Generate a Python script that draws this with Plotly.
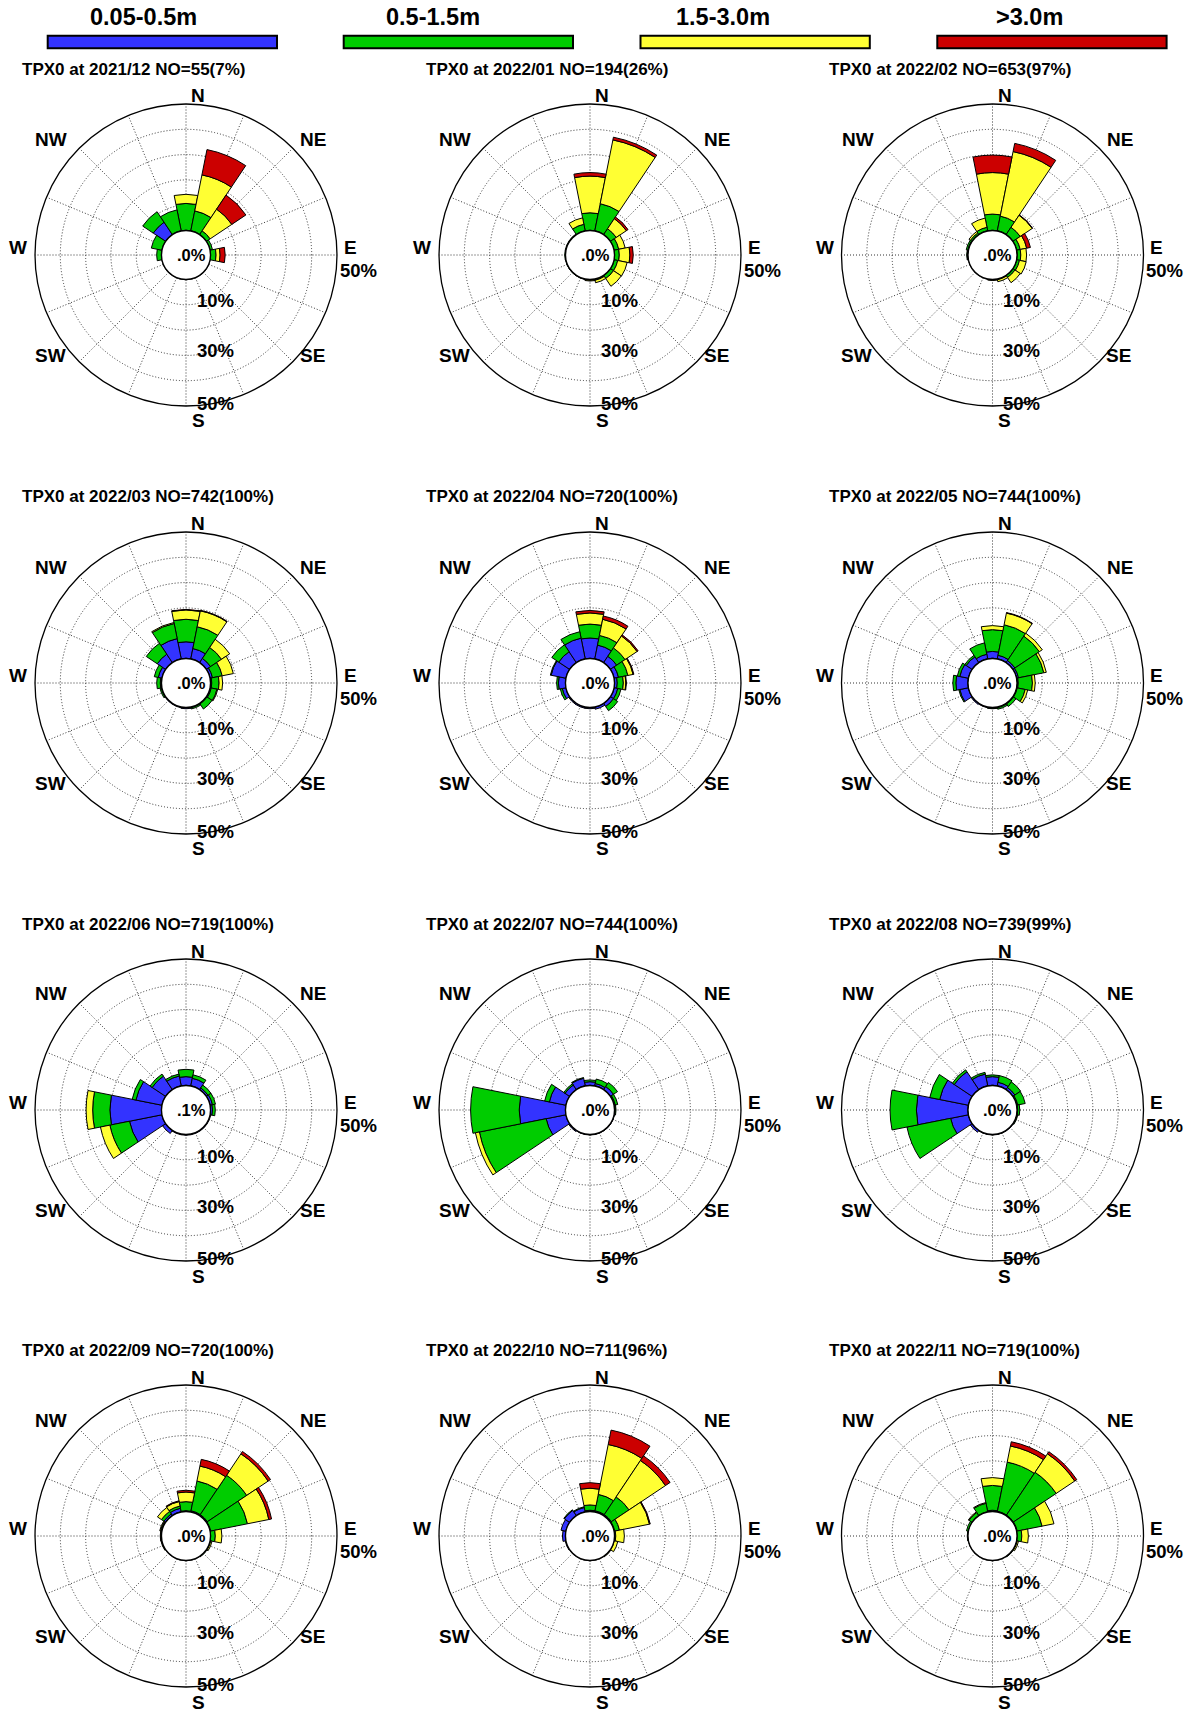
import numpy as np
import plotly.graph_objects as go

W, H = 1197, 1711

# ---------------- data ----------------
DIRECTIONS = [i * 22.5 for i in range(16)]  # N, NNE, ..., NNW
MONTHS = ["2021/12", "2022/01", "2022/02", "2022/03", "2022/04", "2022/05",
          "2022/06", "2022/07", "2022/08", "2022/09", "2022/10", "2022/11"]
NO_COUNT = [55, 194, 653, 742, 720, 744, 719, 744, 739, 720, 711, 719]
NO_PCT = [7, 26, 97, 100, 100, 100, 100, 100, 99, 100, 96, 100]
CALM = [".0%", ".0%", ".0%", ".0%", ".0%", ".0%", ".1%", ".0%", ".0%", ".0%", ".0%", ".0%"]

CLASS_LABELS = ["0.05-0.5m", "0.5-1.5m", "1.5-3.0m", ">3.0m"]
CLASS_COLORS = ["#3333FF", "#00CC00", "#FFFF33", "#CC0000"]

# percent frequency per direction (N, NNE, NE, ENE, E, ESE, SE, SSE, S, SSW, SW, WSW, W, WNW, NW, NNW)
HS_005_05 = [
    [0, 0, 0, 0, 0, 0, 0, 0, 0, 0, 0, 0, 0, 0, 5.9, 0],                               # 2021/12
    [0, 0, 0, 0, 0, 0, 0, 0, 0, 0, 0, 0, 0, 0, 0, 0],                                 # 2022/01
    [0, 0, 0, 0, 0, 0, 0, 0, 0, 0, 0, 0, 0.3, 0.3, 0, 0],                             # 2022/02
    [6.6, 4.2, 2.0, 1.0, 0.5, 0.5, 0.3, 0.3, 0.5, 0.3, 0.3, 0.3, 0.5, 1.5, 4.0, 8.2],  # 2022/03
    [8.1, 5.6, 3.0, 1.8, 1.1, 1.5, 1.5, 0.9, 0.5, 0.5, 0.5, 1.5, 2.8, 6.0, 5.2, 8.4],  # 2022/04
    [2.8, 1.5, 1.0, 0.8, 0.5, 0.3, 0.3, 0.3, 0.3, 0.3, 0.5, 3.5, 4.8, 3.5, 2.8, 1.9],  # 2022/05
    [3.5, 3.1, 0.8, 1.0, 0.8, 0.3, 0.3, 0.3, 0.3, 0.3, 1.5, 13.1, 20.4, 10.5, 6.4, 4.0],  # 2022/06
    [1.5, 1.0, 1.5, 0.5, 0.3, 0.2, 0.2, 0.2, 0.2, 0.2, 0.5, 8.0, 18.3, 6.7, 2.2, 3.1],  # 2022/07
    [3.5, 1.5, 1.0, 0.5, 0.3, 0.2, 0.2, 0.2, 0.2, 0.2, 0.9, 7.2, 20.4, 11.6, 8.5, 4.8],  # 2022/08
    [0.3, 0.5, 0.5, 0.3, 0, 0, 0, 0, 0, 0, 0, 0, 0, 0.3, 0.8, 1.5],                  # 2022/09
    [0.5, 0.5, 0.5, 0.3, 0, 0, 0, 0, 0, 0, 0, 0.3, 1.2, 2.0, 2.5, 1.8],              # 2022/10
    [0.5, 0.3, 0.3, 0.3, 0, 0, 0, 0, 0, 0, 0, 0, 0, 0, 0, 0],                        # 2022/11
]
HS_05_15 = [
    [10.7, 8.1, 1.8, 1.0, 2.2, 0, 0, 0, 0, 0, 0, 0, 1.9, 4.3, 5.0, 8.5],
    [7.0, 11.0, 2.8, 1.9, 1.9, 1.5, 1.5, 0.5, 0.3, 0.2, 0.2, 0.2, 0.3, 0.3, 0.3, 2.7],
    [6.5, 6.0, 3.5, 1.5, 1.5, 1.2, 1.0, 0.3, 0.2, 0, 0, 0, 0.2, 0.6, 0.8, 1.5],
    [8.9, 8.8, 5.2, 3.9, 2.9, 2.3, 2.4, 0.5, 0, 0, 0, 0.5, 1.4, 1.6, 5.2, 6.1],
    [5.5, 3.9, 4.0, 3.8, 2.4, 1.3, 2.0, 0, 0, 0, 0, 0.8, 0.7, 0.3, 3.3, 2.6],
    [8.6, 12.3, 11.6, 10.2, 5.6, 3.2, 1.2, 0.6, 0.2, 0, 0, 0.4, 1.2, 1.0, 0.7, 4.6],
    [2.9, 1.4, 1.4, 1.2, 1.1, 0, 0, 0, 0, 0, 0, 7.9, 6.8, 1.5, 1.0, 0.8],
    [0.7, 1.8, 1.9, 1.0, 0.3, 0, 0, 0, 0, 0, 0, 26.9, 19.2, 1.9, 0.6, 0.3],
    [0.7, 2.7, 2.7, 3.0, 0.8, 0.3, 0, 0, 0, 0, 0, 17.6, 10.4, 4.0, 0.9, 0.7],
    [3.6, 12.0, 18.7, 14.8, 1.9, 0.3, 0.3, 0, 0, 0, 0, 0.2, 0.3, 0.3, 1.2, 0.9],
    [2.1, 6.6, 8.4, 1.9, 0.5, 0, 0, 0, 0, 0, 0, 0, 0, 0, 0.3, 0.3],
    [9.8, 19.8, 20.3, 10.0, 1.9, 0.3, 0.3, 0, 0, 0, 0, 0, 0.3, 0.8, 1.5, 3.5],
]
HS_15_30 = [
    [3.6, 14.5, 10.3, 0, 1.6, 0, 0, 0, 0, 0, 0, 0, 0, 0, 0, 0],
    [14.5, 25.7, 4.8, 2.6, 4.2, 3.8, 3.7, 1.0, 0.3, 0, 0, 0, 0, 0, 0, 2.6],
    [16.4, 26.0, 5.7, 2.6, 2.3, 2.7, 2.5, 0.8, 0.2, 0, 0, 0, 0, 0, 0.7, 3.7],
    [3.7, 6.4, 3.9, 4.5, 1.4, 0.3, 0, 0, 0, 0, 0, 0, 0, 0, 0, 0.4],
    [4.4, 6.5, 5.7, 2.1, 1.0, 0, 0, 0, 0, 0, 0, 0, 0, 0, 0, 0],
    [1.6, 4.7, 1.4, 1.0, 1.1, 1.0, 0, 0, 0, 0, 0, 0, 0, 0, 0, 0],
    [0, 0, 0, 0, 0, 0, 0, 0, 0, 0, 0, 3.8, 2.6, 0, 0, 0],
    [0, 0, 0, 0, 0, 0, 0, 0, 0, 0, 0, 1.6, 0, 0, 0, 0],
    [0, 0, 0, 0, 0, 0, 0, 0, 0, 0, 0, 0, 0, 0, 0, 0],
    [3.8, 6.0, 10.2, 8.6, 2.6, 0.5, 0, 0, 0, 0, 0, 0.2, 0.2, 0.3, 1.9, 1.8],
    [6.6, 20.1, 17.3, 12.1, 3.4, 1.5, 0.3, 0, 0, 0, 0, 0, 0, 0, 0, 0],
    [3.1, 6.5, 8.8, 4.8, 2.6, 0.5, 0, 0, 0, 0, 0, 0, 0, 0, 0.3, 0.3],
]
HS_GT30 = [
    [0, 10.2, 6.7, 0, 2.0, 0, 0, 0, 0, 0, 0, 0, 0, 0, 0, 0],
    [1.4, 1.1, 0.8, 0, 1.3, 0, 0, 0, 0, 0, 0, 0, 0, 0, 0, 0],
    [6.9, 3.3, 0.2, 1.5, 0, 0, 0, 0, 0, 0, 0, 0, 0, 0, 0, 0],
    [0.2, 0.2, 0, 0, 0, 0, 0, 0, 0, 0, 0, 0, 0, 0, 0, 0],
    [1.0, 1.3, 0.5, 0.3, 0.2, 0, 0, 0, 0, 0, 0, 0, 0, 0, 0, 0],
    [0, 0.2, 0, 0, 0, 0, 0, 0, 0, 0, 0, 0, 0, 0, 0, 0],
    [0, 0, 0, 0, 0, 0, 0, 0, 0, 0, 0, 0, 0, 0, 0, 0],
    [0, 0, 0, 0, 0, 0, 0, 0, 0, 0, 0, 0, 0, 0, 0, 0],
    [0, 0, 0, 0, 0, 0, 0, 0, 0, 0, 0, 0, 0, 0, 0, 0],
    [0.7, 2.7, 1.1, 1.1, 0, 0, 0, 0, 0, 0, 0, 0, 0, 0, 0, 0.3],
    [2.2, 5.8, 2.2, 0.3, 0, 0, 0, 0, 0, 0, 0, 0, 0, 0, 0, 0],
    [0, 1.7, 1.0, 0, 0, 0, 0, 0, 0, 0, 0, 0, 0, 0, 0, 0],
]
CLASSES = [HS_005_05, HS_05_15, HS_15_30, HS_GT30]

RADIAL_MAX = 50
RING_VALUES = [10, 20, 30, 40]
RING_LABELS = ["10%", "30%", "50%"]
COMPASS = ["N", "NE", "E", "SE", "S", "SW", "W", "NW"]

# ---------------- layout geometry (pixels) ----------------
COL_CX = [186, 590, 992.5]
ROW_CY = [255, 683, 1110, 1536]
R = 151.0
HOLE_PX = 24.5

FONT = "Liberation Sans, Arial, Helvetica, sans-serif"
GRID_DASH = "1px,2px"
GRID_COLOR = "#333333"


def px(x):
    return x / W


def py(y):
    return 1 - y / H


fig = go.Figure()
annotations = []
shapes = []


def add_text(text, x, y, size, xanchor="center"):
    annotations.append(dict(
        text=text, x=px(x), y=py(y), xref="paper", yref="paper",
        xanchor=xanchor, yanchor="middle", showarrow=False, borderpad=0,
        font=dict(family=FONT, size=size, color="black", weight="bold"),
    ))


# compass label offsets relative to centre
COMPASS_OFF = {
    "N": (12, -159), "NE": (127, -116), "E": (164, -8), "SE": (126, 100),
    "S": (12, 166), "SW": (-136, 100), "W": (-168, -8), "NW": (-135, -116),
}
RING_OFF = [(29, 46), (29, 96), (29, 148)]
E50_OFF = (172, 15)

layout_polars = {}
for i, month in enumerate(MONTHS):
    row, col = divmod(i, 3)
    cx, cy = COL_CX[col], ROW_CY[row]
    name = "polar" if i == 0 else f"polar{i + 1}"
    layout_polars[name] = dict(
        domain=dict(x=[px(cx - R), px(cx + R)], y=[py(cy + R), py(cy - R)]),
        hole=HOLE_PX / R,
        bgcolor="white",
        barmode="stack",
        radialaxis=dict(range=[0, RADIAL_MAX], tickvals=RING_VALUES, showticklabels=False,
                        ticks="", showline=False, gridcolor=GRID_COLOR, griddash=GRID_DASH,
                        gridwidth=1, layer="above traces"),
        angularaxis=dict(rotation=90, direction="clockwise", tickmode="array",
                         tickvals=DIRECTIONS, showticklabels=False, ticks="",
                         showline=True, linecolor="black", linewidth=1.3,
                         gridcolor=GRID_COLOR, griddash=GRID_DASH, gridwidth=1,
                         layer="above traces"),
    )
    for k, cls in enumerate(CLASSES):
        fig.add_trace(go.Barpolar(
            r=cls[i], theta=DIRECTIONS, width=[22.5] * 16,
            marker=dict(color=CLASS_COLORS[k], line=dict(color="black", width=1)),
            subplot=name, name=CLASS_LABELS[k], showlegend=False,
        ))
    theta_c = np.linspace(0, 360, 181)
    fig.add_trace(go.Scatterpolar(
        r=np.zeros_like(theta_c), theta=theta_c, mode="lines",
        line=dict(color="black", width=1.3), subplot=name, showlegend=False,
        cliponaxis=False, hoverinfo="skip",
    ))
    # texts
    add_text(f"TPX0 at {month} NO={NO_COUNT[i]}({NO_PCT[i]}%)", cx - 165, cy - 186, 17, "left")
    for lab in COMPASS:
        ox, oy = COMPASS_OFF[lab]
        add_text(lab, cx + ox, cy + oy, 19)
    for lab, (ox, oy) in zip(RING_LABELS, RING_OFF):
        add_text(lab, cx + ox, cy + oy, 18.5)
    add_text(RING_LABELS[-1], cx + E50_OFF[0], cy + E50_OFF[1], 18.5)
    add_text(CALM[i], cx + 5, cy, 16.5)

# legend bars at top
LEG_X0 = [47.7, 343.7, 640.5, 937.3]
LEG_W = 229.3
LEG_TXT_X = [143, 433, 723, 1029]
for k in range(4):
    shapes.append(dict(type="rect", xref="paper", yref="paper",
                       x0=px(LEG_X0[k]), x1=px(LEG_X0[k] + LEG_W),
                       y0=py(48.3), y1=py(35.7),
                       fillcolor=CLASS_COLORS[k], line=dict(color="black", width=2)))
    add_text(CLASS_LABELS[k], LEG_TXT_X[k], 17, 23.5)

fig.update_layout(
    width=W, height=H, margin=dict(l=0, r=0, t=0, b=0),
    paper_bgcolor="white", plot_bgcolor="white", showlegend=False,
    annotations=annotations, shapes=shapes, **layout_polars,
)

fig.write_html("out.html", config={"displayModeBar": False},
               post_script="document.body.style.margin='0';document.body.style.overflow='hidden';")
